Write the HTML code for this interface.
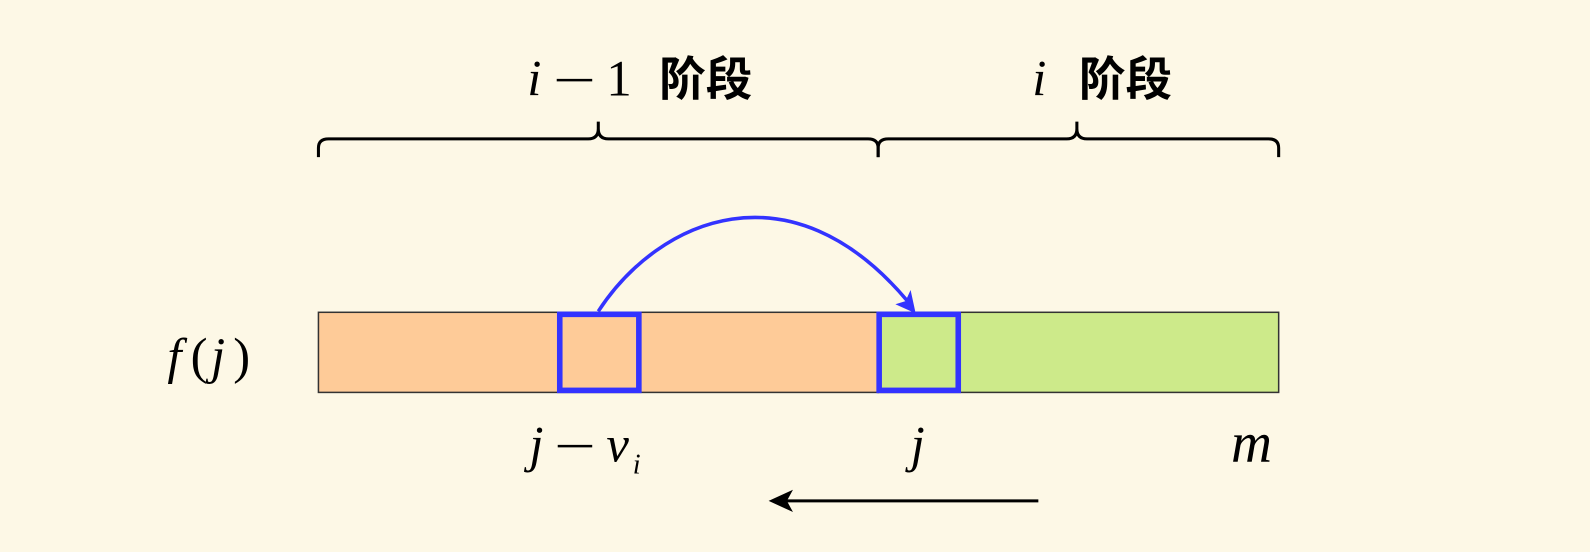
<!DOCTYPE html>
<html><head><meta charset="utf-8"><style>
html,body{margin:0;padding:0;background:#fdf8e6;}
svg{display:block}
.m{font-family:"Liberation Serif","DejaVu Serif",serif;font-style:italic;fill:#000}
.n{font-family:"Liberation Serif","DejaVu Serif",serif;fill:#000}
.c{font-family:"Liberation Sans","Noto Sans CJK SC",sans-serif;font-weight:bold;fill:#000}
</style></head><body>
<svg width="1590" height="552" viewBox="0 0 1568 544.4" xmlns="http://www.w3.org/2000/svg">
<rect width="1568" height="545" fill="#fdf8e6"/>
<text x="520" y="94" class="m" font-size="50">i</text>
<line x1="549" y1="79" x2="584" y2="79" stroke="#000" stroke-width="2.5"/>
<text x="598" y="94" class="n" font-size="50">1</text>
<text x="650" y="94" class="c" font-size="46">阶段</text>
<text x="1018" y="94" class="m" font-size="50">i</text>
<text x="1064" y="94" class="c" font-size="46">阶段</text>
<g fill="none" stroke="#000" stroke-width="3">
<path d="M314 155 V146 Q314 137 324 137 H580 Q590 137 590 127 V120 M590 127 Q590 137 600 137 H856 Q866 137 866 146 V155"/>
<path d="M866 155 V146 Q866 137 876 137 H1052 Q1062 137 1062 127 V120 M1062 127 Q1062 137 1072 137 H1251 Q1261 137 1261 146 V155"/>
</g>
<rect x="314" y="308" width="552" height="79" fill="#fecb98" stroke="#333" stroke-width="1.5"/>
<rect x="866" y="308" width="395" height="79" fill="#cdea8a" stroke="#333" stroke-width="1.5"/>
<rect x="552" y="310" width="78" height="75" fill="none" stroke="#3333ff" stroke-width="5.5"/>
<rect x="867" y="310" width="78" height="75" fill="none" stroke="#3333ff" stroke-width="5.5"/>
<path d="M590 307 C650 215 780 160 895 297" fill="none" stroke="#3333ff" stroke-width="3.5"/>
<polygon points="903,309 883,300 893,297 898,286" fill="#3333ff"/>
<text x="165" y="368" class="m" font-size="50">f</text>
<text x="188" y="368" class="n" font-size="50">(</text>
<text x="208" y="368" class="m" font-size="50">j</text>
<text x="230" y="368" class="n" font-size="50">)</text>
<text x="522" y="455" class="m" font-size="50">j</text>
<line x1="550" y1="440" x2="584" y2="440" stroke="#000" stroke-width="2.5"/>
<text x="598" y="455" class="m" font-size="50">v</text>
<text x="624" y="467" class="m" font-size="28">i</text>
<text x="898" y="455" class="m" font-size="50">j</text>
<text x="1214" y="455" class="m" font-size="56">m</text>
<line x1="1024" y1="494" x2="775" y2="494" stroke="#000" stroke-width="3"/>
<polygon points="758,494 782,483 776,494 782,505" fill="#000"/>
</svg>
</body></html>
